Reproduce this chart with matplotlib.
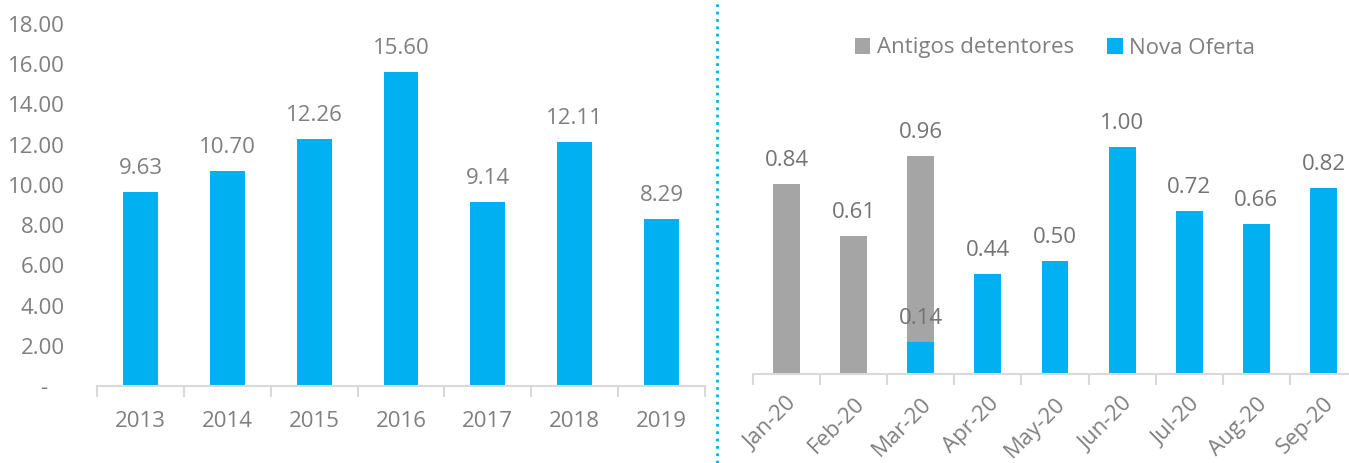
import matplotlib

matplotlib.use("Agg")
import matplotlib.pyplot as plt
from matplotlib.lines import Line2D
from matplotlib.ticker import FixedLocator

plt.rcParams["font.family"] = ["Open Sans", "DejaVu Sans"]

BLUE = "#00b0f0"
GRAY = "#a5a5a5"
TEXT = "#7f7f7f"
AXIS = "#d9d9d9"

# left panel: yearly values
years = ["2013", "2014", "2015", "2016", "2017", "2018", "2019"]
yearly = [9.63, 10.70, 12.26, 15.60, 9.14, 12.11, 8.29]
yticks_left = [0, 2, 4, 6, 8, 10, 12, 14, 16, 18]

# right panel: monthly values (overlapping bars)
months = ["Jan-20", "Feb-20", "Mar-20", "Apr-20", "May-20", "Jun-20", "Jul-20", "Aug-20", "Sep-20"]
antigos = [0.84, 0.61, 0.96, 0, 0, 0, 0, 0, 0]
nova = [0, 0, 0.14, 0.44, 0.50, 1.00, 0.72, 0.66, 0.82]

W, H = 1349, 463
fig = plt.figure(figsize=(W / 100, H / 100), dpi=100)
fig.patch.set_facecolor("white")


def px_axes(x0, x1, ybot, ytop):
    return fig.add_axes([x0 / W, (H - ybot) / H, (x1 - x0) / W, (ybot - ytop) / H])


def style(ax, n):
    for s in ("top", "right", "left"):
        ax.spines[s].set_visible(False)
    ax.spines["bottom"].set_color(AXIS)
    ax.spines["bottom"].set_linewidth(1.5)
    ax.set_xlim(-0.5, n - 0.5)
    ax.xaxis.set_minor_locator(FixedLocator([i - 0.5 for i in range(n + 1)]))
    ax.tick_params(axis="x", which="minor", length=8, width=1.5, color=AXIS, direction="out")
    ax.tick_params(axis="x", which="major", length=0, labelsize=16, labelcolor=TEXT)


def label(ax, x, v, color=TEXT):
    ax.annotate(f"{v:.2f}", (x, v), textcoords="offset points", xytext=(0, 13),
                ha="center", va="baseline", fontsize=16, color=color)


# ---- left panel
ax1 = px_axes(97, 705, 386, 24)
x1 = range(len(years))
ax1.bar(x1, yearly, width=0.4, color=BLUE)
for x, v in zip(x1, yearly):
    label(ax1, x, v)
style(ax1, len(years))
ax1.set_xticks(list(x1))
ax1.set_xticklabels(years)
ax1.tick_params(axis="x", which="major", pad=18)
ax1.set_ylim(0, 18)
ax1.set_yticks(yticks_left)
ax1.set_yticklabels(["-   " if t == 0 else f"{t:.2f}" for t in yticks_left])
ax1.tick_params(axis="y", length=0, pad=23, labelsize=16, labelcolor=TEXT)

# ---- right panel
ax2 = px_axes(753, 1357, 374, 102)
x2 = range(len(months))
ax2.bar(x2, antigos, width=0.4, color=GRAY, label="Antigos detentores")
ax2.bar(x2, nova, width=0.4, color=BLUE, label="Nova Oferta")
for x, a, n in zip(x2, antigos, nova):
    if a:
        label(ax2, x, a, "#737373")
    if n:
        label(ax2, x, n, "#737373")
style(ax2, len(months))
ax2.set_xticks(list(x2))
ax2.set_xticklabels(months, rotation=45, ha="right", va="top", rotation_mode="anchor")
ax2.tick_params(axis="x", which="major", pad=14)
ax2.set_ylim(0, 1.2)
ax2.set_yticks([])

fig.legend(loc="center", bbox_to_anchor=(1055 / W, (H - 48) / H), ncol=2, frameon=False,
           fontsize=16, labelcolor=TEXT, handlelength=0.7, handleheight=0.7,
           handletextpad=0.3, columnspacing=1.5)

# dotted separator
fig.add_artist(Line2D([717 / W, 717 / W], [0, 1], transform=fig.transFigure,
                      color=BLUE, linestyle=":", linewidth=2))

fig.savefig("out.png", dpi=100, facecolor="white")
